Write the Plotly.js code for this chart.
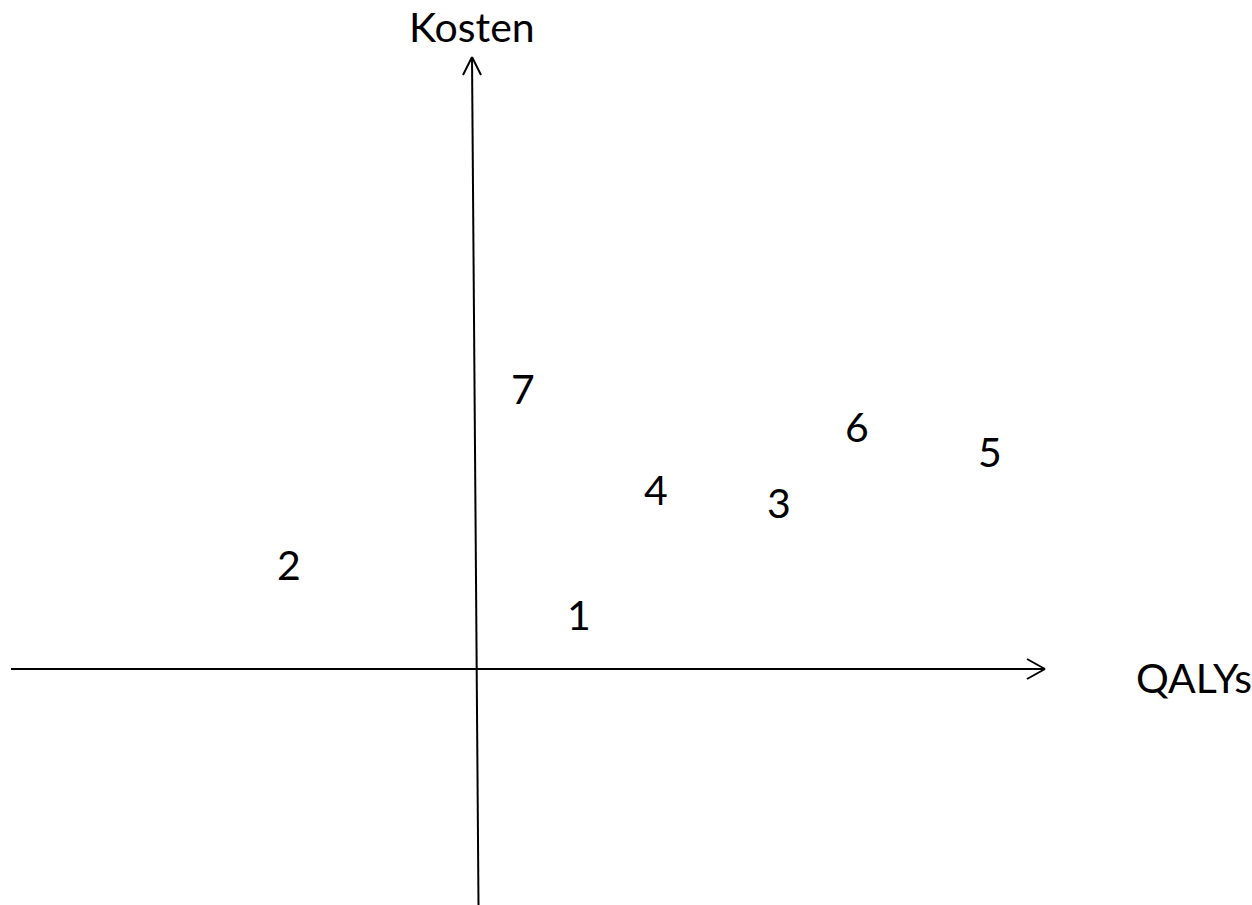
<!DOCTYPE html>
<html>
<head>
<meta charset="utf-8">
<script src="https://cdn.plot.ly/plotly-3.0.1.min.js"></script>
<style>html,body{margin:0;padding:0;background:#fff;}#chart{width:1252px;height:905px;}</style>
</head>
<body>
<div id="chart"></div>
<script>
// Strategies (labels) placed on the cost-effectiveness plane
const labels = ["1", "2", "3", "4", "5", "6", "7"];
// QALYs (x) and Kosten (y) – arbitrary units
const qalys  = [1.02, -1.88, 3.02, 1.79, 5.13, 3.80, 0.46];
const kosten = [0.49, 0.99, 1.61, 1.74, 2.12, 2.37, 2.75];
const xTitle = "QALYs";
const yTitle = "Kosten";

const FONT = "Lato, 'Open Sans', sans-serif";

const trace = {
  type: "scatter",
  mode: "text",
  x: qalys,
  y: kosten,
  text: labels,
  textposition: "middle center",
  textfont: {family: FONT, size: 41, color: "#000"},
  hoverinfo: "skip",
  showlegend: false
};

const hidden = {visible: false, showgrid: false, zeroline: false, fixedrange: true};

// axis geometry (in plot units)
const vTip = [-0.05, 6.12], vTail = [0.015, -2.36];
const hTip = [5.68, 0], hTail = [-4.66, 0];
const LINE = {color: "#000", width: 2};

function arm(tip, dx, dy) {
  return {type: "line", xref: "x", yref: "y", xsizemode: "pixel", ysizemode: "pixel",
          xanchor: tip[0], yanchor: tip[1], x0: 0, y0: 0, x1: dx, y1: dy, line: LINE};
}

const layout = {
  width: 1252,
  height: 905,
  margin: {l: 0, r: 0, t: 0, b: 0, pad: 0},
  paper_bgcolor: "#fff",
  plot_bgcolor: "#fff",
  showlegend: false,
  xaxis: Object.assign({range: [-4.77, 7.75]}, hidden),
  yaxis: Object.assign({range: [-2.36, 6.69]}, hidden),
  shapes: [
    {type: "line", xref: "x", yref: "y", x0: vTail[0], y0: vTail[1], x1: vTip[0], y1: vTip[1], line: LINE},
    {type: "line", xref: "x", yref: "y", x0: hTail[0], y0: hTail[1], x1: hTip[0], y1: hTip[1], line: LINE},
    arm(vTip, -9, -18), arm(vTip, 9, -18),
    arm(hTip, -18, 10), arm(hTip, -18, -10)
  ],
  annotations: [
    {x: -0.05, y: 6.43, xref: "x", yref: "y", text: yTitle, showarrow: false,
     xanchor: "center", yanchor: "middle", font: {family: FONT, size: 41, color: "#000"}},
    {x: 6.57, y: -0.08, xref: "x", yref: "y", text: xTitle, showarrow: false,
     xanchor: "left", yanchor: "middle", font: {family: FONT, size: 41, color: "#000"}}
  ]
};

Plotly.newPlot("chart", [trace], layout, {staticPlot: true, displayModeBar: false});
</script>
</body>
</html>
